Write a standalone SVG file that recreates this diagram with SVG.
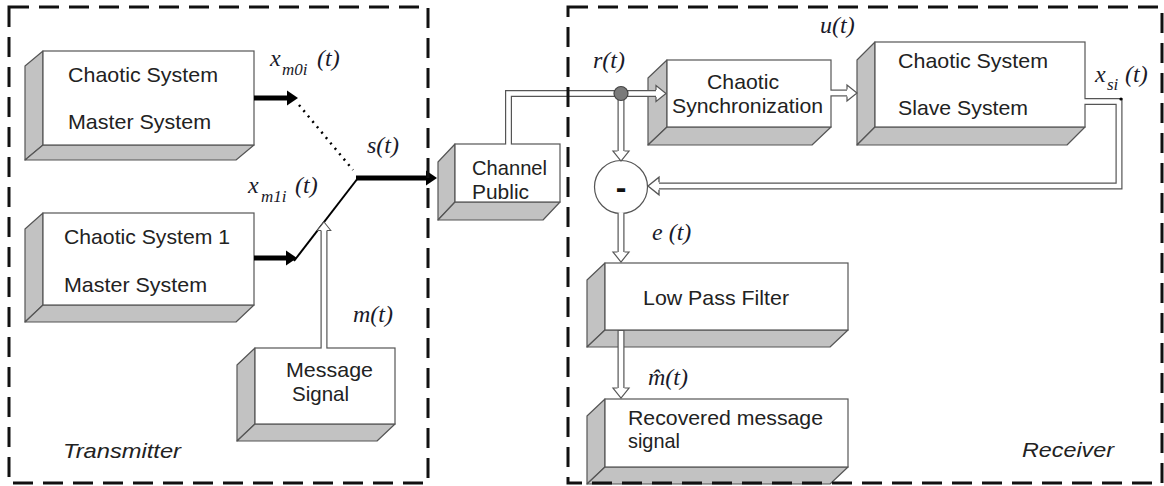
<svg xmlns="http://www.w3.org/2000/svg" width="1164" height="486" viewBox="0 0 1164 486">
<style>
  .frame{fill:none;stroke:#111;stroke-width:3;stroke-dasharray:20 10}
  .face{fill:#fff;stroke:#555;stroke-width:1.2}
  .side{fill:#c2c2c2;stroke:#555;stroke-width:1.2;stroke-linejoin:round}
  .lbl{font-family:"Liberation Sans",Arial,sans-serif;font-size:21px;fill:#222}
  .cap{font-family:"Liberation Sans",Arial,sans-serif;font-size:21px;font-style:italic;fill:#222}
  .math{font-family:"Liberation Serif","Times New Roman",serif;font-size:24px;font-style:italic;fill:#1a1a2a}
  .sub{font-size:17px}
  .thick{stroke:#000;stroke-width:5;fill:none}
  .thin{stroke:#000;stroke-width:2;fill:none}
  .dots{stroke:#000;stroke-width:2.5;stroke-dasharray:2 5;fill:none}
  .pipe-o{stroke:#555;stroke-width:7;fill:none;stroke-linejoin:miter}
  .pipe-i{stroke:#fff;stroke-width:4.6;fill:none;stroke-linejoin:miter}
  .head-o{fill:#fff;stroke:#555;stroke-width:1.2;stroke-linejoin:miter}
</style>
<defs>
  <!-- filled head, tip at origin, pointing +x -->
  <path id="headBlack" d="M0,0 L-11,-7.5 L-11,7.5 Z" fill="#000"/>
  <!-- open block-arrow head, tip at origin, pointing +x -->
  <path id="headHollow" class="head-o" d="M-10,-3.5 V-8 L0,0 L-10,8 V3.5"/>
</defs>

<!-- transmitter nodes -->
<g id="master0">
  <polygon class="side" points="43,51 25,66 25,160 43,145"/>
  <polygon class="side" points="43,145 25,160 236,160 254,145"/>
  <rect class="face" x="43" y="51" width="211" height="94"/>
  <text class="lbl" x="68" y="82" textLength="150" lengthAdjust="spacingAndGlyphs">Chaotic System</text>
  <text class="lbl" x="68" y="129" textLength="143" lengthAdjust="spacingAndGlyphs">Master System</text>
</g>
<g id="master1">
  <polygon class="side" points="43,213 25,229 25,322 43,305"/>
  <polygon class="side" points="43,305 25,322 236,322 254,305"/>
  <rect class="face" x="43" y="213" width="211" height="92"/>
  <text class="lbl" x="64" y="244" textLength="166" lengthAdjust="spacingAndGlyphs">Chaotic System 1</text>
  <text class="lbl" x="64" y="292" textLength="143" lengthAdjust="spacingAndGlyphs">Master System</text>
</g>
<g id="message">
  <polygon class="side" points="255,348 237,365 237,441 255,424"/>
  <polygon class="side" points="255,424 237,441 377,441 395,424"/>
  <rect class="face" x="255" y="348" width="140" height="76"/>
  <text class="lbl" x="286" y="377" textLength="87" lengthAdjust="spacingAndGlyphs">Message</text>
  <text class="lbl" x="292" y="401" textLength="57" lengthAdjust="spacingAndGlyphs">Signal</text>
</g>
<g id="channel">
  <polygon class="side" points="455,144 438,162 438,220 455,202"/>
  <polygon class="side" points="455,202 438,220 543,220 560,202"/>
  <rect class="face" x="455" y="144" width="105" height="58"/>
  <text class="lbl" x="472" y="175" textLength="75" lengthAdjust="spacingAndGlyphs">Channel</text>
  <text class="lbl" x="472" y="199" textLength="57" lengthAdjust="spacingAndGlyphs">Public</text>
</g>

<!-- receiver nodes -->
<g id="sync">
  <polygon class="side" points="667,60 648,78 648,145 667,127"/>
  <polygon class="side" points="667,127 648,145 812,145 831,127"/>
  <rect class="face" x="667" y="60" width="164" height="67"/>
  <text class="lbl" x="707" y="89" textLength="72" lengthAdjust="spacingAndGlyphs">Chaotic</text>
  <text class="lbl" x="672" y="113" textLength="151" lengthAdjust="spacingAndGlyphs">Synchronization</text>
</g>
<g id="slave">
  <polygon class="side" points="875,42 857,60 857,145 875,127"/>
  <polygon class="side" points="875,127 857,145 1067,145 1085,127"/>
  <rect class="face" x="875" y="42" width="210" height="85"/>
  <text class="lbl" x="898" y="68" textLength="150" lengthAdjust="spacingAndGlyphs">Chaotic System</text>
  <text class="lbl" x="898" y="115" textLength="130" lengthAdjust="spacingAndGlyphs">Slave System</text>
</g>
<g id="subtract">
  <circle cx="621" cy="187" r="26.5" fill="#fff" stroke="#555" stroke-width="1.2"/>
  <text x="621" y="198" text-anchor="middle" font-family="Liberation Sans,Arial,sans-serif" font-weight="bold" font-size="32" fill="#111">-</text>
</g>
<g id="lpf">
  <polygon class="side" points="605,263 587,280 587,347 605,330"/>
  <polygon class="side" points="605,330 587,347 830,347 848,330"/>
  <rect class="face" x="605" y="263" width="243" height="67"/>
  <text class="lbl" x="643" y="305" textLength="146" lengthAdjust="spacingAndGlyphs">Low Pass Filter</text>
</g>
<g id="recovered">
  <polygon class="side" points="605,399 587,416 587,484 605,467"/>
  <polygon class="side" points="605,467 587,484 830,484 848,467"/>
  <rect class="face" x="605" y="399" width="243" height="68"/>
  <text class="lbl" x="628" y="425" textLength="195" lengthAdjust="spacingAndGlyphs">Recovered message</text>
  <text class="lbl" x="628" y="448" textLength="52" lengthAdjust="spacingAndGlyphs">signal</text>
</g>

<!-- connectors -->
<g id="connectors">
  <!-- solid signal lines on the transmitter side -->
  <path class="thick" d="M254,98 H288"/>
  <use href="#headBlack" transform="translate(298,98)"/>
  <path class="thick" d="M254,258 H287"/>
  <use href="#headBlack" transform="translate(297,258)"/>
  <path class="dots" d="M299,105 L353,170"/>
  <path class="thin" d="M294,261 L358,178"/>
  <path class="thick" d="M356,178 H426"/>
  <use href="#headBlack" transform="translate(437,178)"/>

  <!-- double-line pipes -->
  <path class="pipe-o" d="M324,348 V230"/>
  <path class="pipe-i" d="M324,349 V229"/>
  <use href="#headHollow" transform="translate(324,222) rotate(-90) scale(0.85)"/>

  <path class="pipe-o" d="M508.5,144 V93.5 H656"/>
  <path class="pipe-i" d="M508.5,145 V93.5 H657"/>
  <use href="#headHollow" transform="translate(666,93.5)"/>

  <path class="pipe-o" d="M621,100 V152"/>
  <path class="pipe-i" d="M621,99 V153"/>
  <use href="#headHollow" transform="translate(621,161) rotate(90)"/>

  <path class="pipe-o" d="M831,93 H848"/>
  <path class="pipe-i" d="M830,93 H849"/>
  <use href="#headHollow" transform="translate(857,93)"/>

  <path class="pipe-o" d="M1085,101.5 H1119 V186 H658"/>
  <path class="pipe-i" d="M1084,101.5 H1119 V186 H657"/>
  <use href="#headHollow" transform="translate(648,186) rotate(180) scale(1.1)"/>
  <circle cx="1121" cy="99" r="1.6" fill="#000"/>

  <path class="pipe-o" d="M621,213.5 V253"/>
  <path class="pipe-i" d="M621,212.5 V254"/>
  <use href="#headHollow" transform="translate(621,262) rotate(90)"/>

  <path class="pipe-o" d="M621,330 V389"/>
  <path class="pipe-i" d="M621,331 V390"/>
  <use href="#headHollow" transform="translate(621,398) rotate(90)"/>

  <circle cx="621" cy="93.5" r="7" fill="#7a7a7a" stroke="#444" stroke-width="1.2"/>
</g>

<!-- signal labels -->
<g id="signal-labels">
  <text class="math" x="270" y="66">x<tspan class="sub" x="282" y="75">m0i</tspan><tspan x="317" y="66">(t)</tspan></text>
  <text class="math" x="248" y="193">x<tspan class="sub" x="261" y="202">m1i</tspan><tspan x="295" y="193">(t)</tspan></text>
  <text class="math" x="367" y="153">s(t)</text>
  <text class="math" x="353" y="322">m(t)</text>
  <text class="math" x="593" y="68">r(t)</text>
  <text class="math" x="820" y="33">u(t)</text>
  <text class="math" x="1095" y="82">x<tspan class="sub" x="1107" y="90">si</tspan><tspan x="1125" y="82">(t)</tspan></text>
  <text class="math" x="652" y="240">e (t)</text>
  <text class="math" x="648" y="385">m̂(t)</text>
</g>

<!-- section frames -->
<g id="transmitter">
  <rect class="frame" x="9" y="7" width="419" height="476"/>
  <text class="cap" x="63" y="458" textLength="118" lengthAdjust="spacingAndGlyphs">Transmitter</text>
</g>
<g id="receiver">
  <rect class="frame" x="568" y="7" width="594" height="476"/>
  <text class="cap" x="1022" y="457" textLength="92" lengthAdjust="spacingAndGlyphs">Receiver</text>
</g>
</svg>
